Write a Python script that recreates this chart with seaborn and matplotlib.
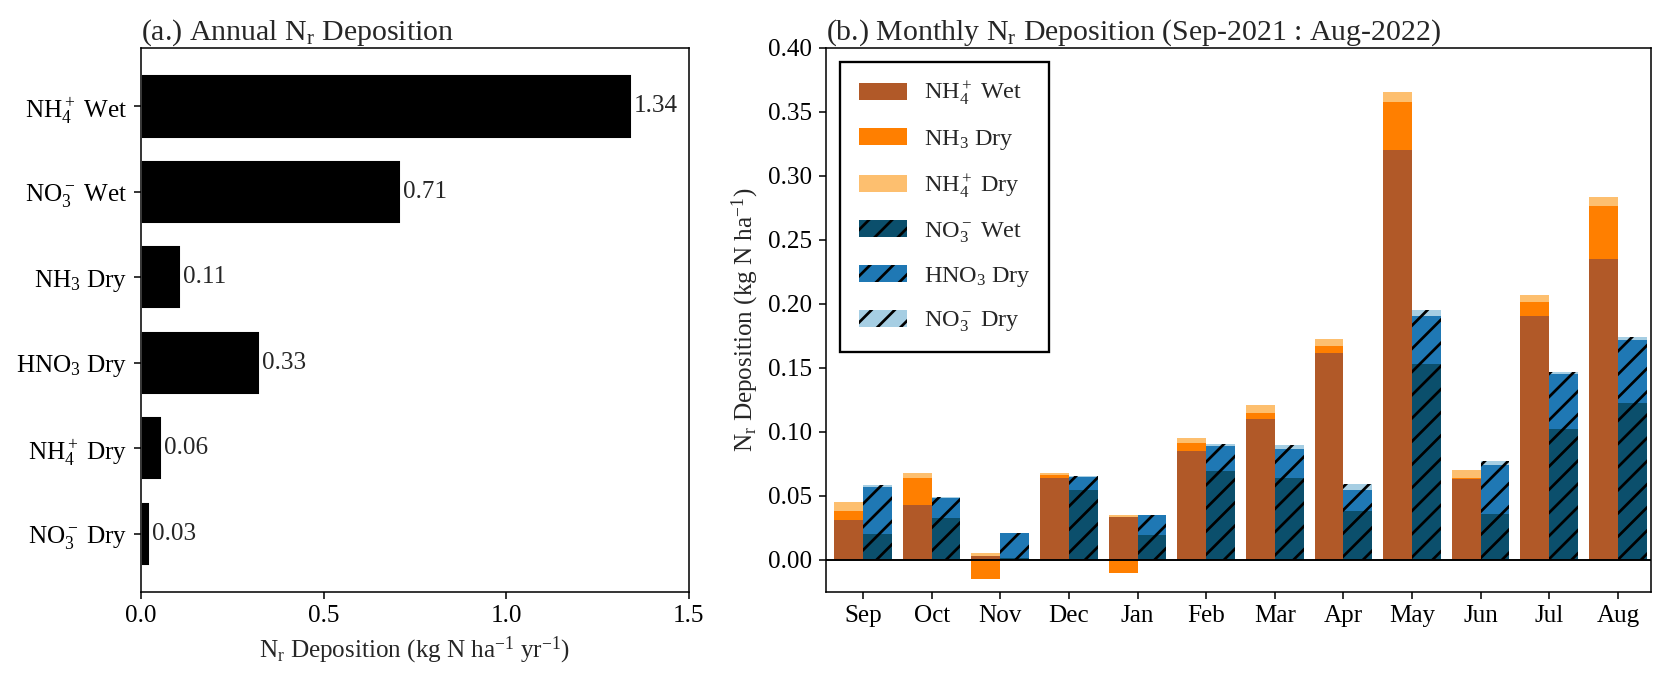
import numpy as np
import matplotlib
matplotlib.use('Agg')
import matplotlib.pyplot as plt
import seaborn as sns

# Dados anuais (kg N ha-1 yr-1)
species = [r'NH$_4^+$ Wet', r'NO$_3^-$ Wet', r'NH$_3$ Dry',
           r'HNO$_3$ Dry', r'NH$_4^+$ Dry', r'NO$_3^-$ Dry']
annual = [1.343, 0.713, 0.111, 0.326, 0.057, 0.026]

# Dados mensais (kg N ha-1), Sep-2021 : Aug-2022
months = ['Sep', 'Oct', 'Nov', 'Dec', 'Jan', 'Feb', 'Mar', 'Apr', 'May', 'Jun', 'Jul', 'Aug']
nh4_wet = [0.0307, 0.0424, 0.0031, 0.0638, 0.0333, 0.0849, 0.1098, 0.1616, 0.3202, 0.0632, 0.1906, 0.2346]
nh3_dry = [0.0071, 0.0211, -0.0148, 0.0021, -0.0107, 0.0062, 0.0049, 0.0052, 0.0372, 0.0003, 0.0109, 0.0420]
nh4_dry = [0.0070, 0.0039, 0.0024, 0.0015, 0.0013, 0.0038, 0.0060, 0.0055, 0.0078, 0.0064, 0.0054, 0.0070]
no3_wet = [0.0198, 0.0326, 0.0016, 0.0544, 0.0195, 0.0692, 0.0639, 0.0379, 0.1527, 0.0357, 0.1022, 0.1227]
hno3_dry = [0.0370, 0.0153, 0.0190, 0.0104, 0.0154, 0.0196, 0.0224, 0.0164, 0.0375, 0.0383, 0.0431, 0.0492]
no3_dry = [0.0012, 0.0008, 0.0005, 0.0003, 0.0003, 0.0014, 0.0032, 0.0047, 0.0047, 0.0031, 0.0016, 0.0023]

# Cores
c_nh4_wet = '#b15928'
c_nh3_dry = '#ff7f00'
c_nh4_dry = '#fdbf6f'
c_no3_wet = '#0b4f6c'
c_hno3_dry = '#1f78b4'
c_no3_dry = '#a6cee3'

sns.set_style('ticks')
plt.rcParams['font.family'] = ['Liberation Serif', 'DejaVu Serif']
plt.rcParams['mathtext.fontset'] = 'custom'
plt.rcParams['mathtext.rm'] = 'Liberation Serif'
plt.rcParams['mathtext.it'] = 'Liberation Serif:italic'
plt.rcParams['mathtext.bf'] = 'Liberation Serif:bold'
plt.rcParams['font.size'] = 13
plt.rcParams['axes.edgecolor'] = 'black'
plt.rcParams['xtick.color'] = 'black'
plt.rcParams['ytick.color'] = 'black'
plt.rcParams['hatch.color'] = 'black'
plt.rcParams['hatch.linewidth'] = 1.4

fig = plt.figure(figsize=(12, 4.957), dpi=139)
ax1 = fig.add_axes([0.0845, 0.1412, 0.3285, 0.7898])
ax2 = fig.add_axes([0.4952, 0.1412, 0.4945, 0.7898])

# (a.) barras horizontais anuais
sns.barplot(x=annual, y=species, color='black', saturation=1, width=0.75,
            orient='h', ax=ax1)
ax1.bar_label(ax1.containers[0], fmt='%.2f', padding=1, fontsize=13)
ax1.set_xlim(0, 1.5)
ax1.set_xticks([0, 0.5, 1.0, 1.5])
ax1.set_ylim(5.68, -0.69)
ax1.set_ylabel('')
ax1.set_xlabel(r'N$_\mathrm{r}$ Deposition (kg N ha$^{-1}$ yr$^{-1}$)', fontsize=13)
ax1.set_title(r'(a.) Annual N$_\mathrm{r}$ Deposition', loc='left', fontsize=15.5, pad=4)
ax1.tick_params(labelsize=13)

# (b.) barras mensais empilhadas
x = np.arange(len(months))
w = 0.42
nh4_wet_a = np.array(nh4_wet)
nh3_dry_a = np.array(nh3_dry)
nh4_dry_a = np.array(nh4_dry)
no3_wet_a = np.array(no3_wet)
hno3_dry_a = np.array(hno3_dry)
no3_dry_a = np.array(no3_dry)

nh3_bottom = np.where(nh3_dry_a > 0, nh4_wet_a, 0)
nh4_dry_bottom = nh4_wet_a + np.clip(nh3_dry_a, 0, None)

b1 = ax2.bar(x - w / 2, nh4_wet_a, w, color=c_nh4_wet, edgecolor='black', linewidth=0, label=r'NH$_4^+$ Wet')
b2 = ax2.bar(x - w / 2, nh3_dry_a, w, bottom=nh3_bottom, color=c_nh3_dry, edgecolor='black', linewidth=0, label=r'NH$_3$ Dry')
b3 = ax2.bar(x - w / 2, nh4_dry_a, w, bottom=nh4_dry_bottom, color=c_nh4_dry, edgecolor='black', linewidth=0, label=r'NH$_4^+$ Dry')
b4 = ax2.bar(x + w / 2, no3_wet_a, w, color=c_no3_wet, edgecolor='black', linewidth=0, hatch='//', label=r'NO$_3^-$ Wet')
b5 = ax2.bar(x + w / 2, hno3_dry_a, w, bottom=no3_wet_a, color=c_hno3_dry, edgecolor='black', linewidth=0, hatch='//', label=r'HNO$_3$ Dry')
b6 = ax2.bar(x + w / 2, no3_dry_a, w, bottom=no3_wet_a + hno3_dry_a, color=c_no3_dry, edgecolor='black', linewidth=0, hatch='//', label=r'NO$_3^-$ Dry')

ax2.axhline(0, color='black', linewidth=1)
ax2.set_xticks(x)
ax2.set_xticklabels(months)
ax2.set_xlim(-0.54, 11.48)
ax2.set_ylim(-0.025, 0.40)
ax2.set_yticks(np.arange(0, 0.401, 0.05))
ax2.set_yticklabels([f'{v:.2f}' for v in np.arange(0, 0.401, 0.05)])
ax2.tick_params(labelsize=13)
ax2.set_ylabel(r'N$_\mathrm{r}$ Deposition (kg N ha$^{-1}$)', fontsize=13)
ax2.set_title(r'(b.) Monthly N$_\mathrm{r}$ Deposition (Sep-2021 : Aug-2022)', loc='left', fontsize=15.5, pad=4)

leg = ax2.legend(handles=[b1, b2, b3, b4, b5, b6], loc='upper left', fontsize=12.5,
                 frameon=True, fancybox=False, edgecolor='black', framealpha=1,
                 labelspacing=0.85, handlelength=2.0, handletextpad=0.7,
                 borderpad=0.75, borderaxespad=0.6)
leg.get_frame().set_linewidth(1.2)

for ax in (ax1, ax2):
    for s in ax.spines.values():
        s.set_visible(True)
        s.set_color('black')

fig.savefig('out.png', dpi=139)
